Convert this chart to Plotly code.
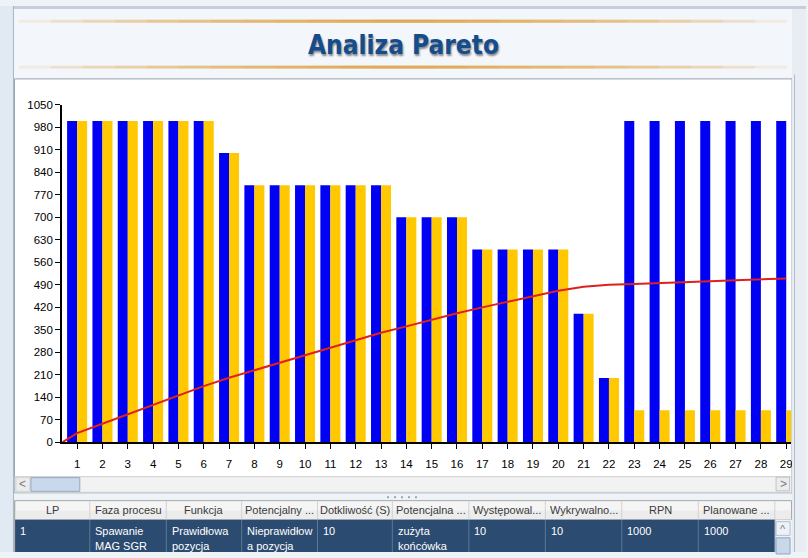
import plotly.graph_objects as go

# ---------------- data ----------------
categories = [1, 2, 3, 4, 5, 6, 7, 8, 9, 10, 11, 12, 13, 14, 15, 16, 17, 18, 19, 20,
              21, 22, 23, 24, 25, 26, 27, 28, 29]
rpn = [1000, 1000, 1000, 1000, 1000, 1000, 900, 800, 800, 800, 800, 800, 800, 700, 700,
       700, 600, 600, 600, 600, 400, 200, 1000, 1000, 1000, 1000, 1000, 1000, 1000]
planned = [1000, 1000, 1000, 1000, 1000, 1000, 900, 800, 800, 800, 800, 800, 800, 700, 700,
           700, 600, 600, 600, 600, 400, 200, 100, 100, 100, 100, 100, 100, 100]
# cumulative (red) line: starting value at the origin, then one value per category
cumulative = [0, 29, 58, 87, 117, 146, 175, 201, 224, 248, 271, 294, 318, 341, 361, 382,
              402, 420, 437, 455, 472, 484, 490, 493, 495, 498, 501, 504, 507, 510]
y_ticks = [0, 70, 140, 210, 280, 350, 420, 490, 560, 630, 700, 770, 840, 910, 980, 1050]

title_text = "Analiza Pareto"
table_headers = ["LP", "Faza procesu", "Funkcja", "Potencjalny ...", "Dotkliwość (S)",
                 "Potencjalna ...", "Występowal...", "Wykrywalno...", "RPN", "Planowane ..."]
table_row = [["1"], ["Spawanie", "MAG SGR"], ["Prawidłowa", "pozycja"],
             ["Nieprawidłow", "a pozycja"], ["10"], ["zużyta", "końcówka"],
             ["10"], ["10"], ["1000"], ["1000"]]

# ---------------- layout helpers ----------------
W, H = 808, 558


def px(x):
    return x / W


def py(y):
    return 1 - y / H


PLOT_L, PLOT_R = 62.3, 793.0
PLOT_B, PLOT_T = 446.0, 101.0
X_RANGE = [0.409, 29.19]
Y_RANGE = [0, 1050]

BLUE = "#0000f2"
GOLD = "#ffc800"
RED = "#e0201c"
FONT = "Liberation Sans, Arial, sans-serif"

fig = go.Figure()
fig.add_trace(go.Bar(x=categories, y=rpn, marker=dict(color=BLUE, line=dict(width=0)),
                     name="RPN"))
fig.add_trace(go.Bar(x=categories, y=planned, marker=dict(color=GOLD, line=dict(width=0)),
                     name="Planowane RPN"))
fig.add_trace(go.Scatter(x=[X_RANGE[0]] + categories, y=cumulative, mode="lines",
                         line=dict(color=RED, width=2), name="Skumulowane",
                         cliponaxis=True))

shapes = []
annotations = []


def rect(x0, y0, x1, y1, fill, line=None, lw=1, layer="below", opacity=1.0):
    shapes.append(dict(type="rect", xref="paper", yref="paper",
                       x0=px(x0), x1=px(x1), y0=py(y0), y1=py(y1),
                       fillcolor=fill, opacity=opacity,
                       line=dict(color=line if line else fill, width=lw if line else 0),
                       layer=layer))


def vline(x, y0, y1, color, lw=1, layer="below"):
    shapes.append(dict(type="line", xref="paper", yref="paper",
                       x0=px(x), x1=px(x), y0=py(y0), y1=py(y1),
                       line=dict(color=color, width=lw), layer=layer))


def text(x, y, s, size=11, color="#000", xanchor="center", family=FONT, **kw):
    annotations.append(dict(xref="paper", yref="paper", x=px(x), y=py(y), text=s,
                            showarrow=False, xanchor=xanchor, yanchor="middle",
                            font=dict(family=family, size=size, color=color, **kw)))


# window frame
rect(0, 0, 808, 3, "#c7ced8")
rect(0, 3, 808, 73, "#f3f6fa")
rect(0, 0, 13, 558, "#e1e9f3")
vline(13.5, 0, 558, "#a7b5c6")

# orange gradient rules around the title
for yc in (15.5, 62.5):
    n = 12
    for i in range(n):
        half = 385 * (1 - i / n)
        rect(404 - half, yc - 1.5, 404 + half, yc + 1.5, "#e39a33", opacity=0.13)

text(404, 40, "<b>" + title_text + "</b>", size=26, color="#154c8c",
     family="Liberation Sans Narrow, DejaVu Sans Condensed, Arial Narrow, sans-serif",
     shadow="1px 2px 2px rgba(0,0,0,0.45)")

# chart panel
rect(14.5, 74.5, 794, 497.5, "#ffffff", line="#9aa3ae")

# horizontal scroll bar
rect(15, 481, 793.5, 497, "#f2f2f2", line="#cfcfcf")
rect(16, 482, 30, 496, "#ececec", line="#d3d3d3")
text(23, 489, "<", size=12, color="#7a7a7a")
rect(31, 482, 80, 496, "#c9d9ec", line="#91a8c3")
rect(778, 481.5, 791.5, 495.5, "#ececec", line="#c3c3c3")
text(785, 488.5, ">", size=12, color="#7a7a7a")

# splitter dots
for dx in (388, 395, 402, 409, 416):
    rect(dx, 501, dx + 2, 503, "#9ba6b3")

# table
col_edges = [14.7, 90, 166.7, 242.3, 318.3, 393.3, 470, 546.7, 623.3, 700, 776.7]
rect(14.7, 505.5, 793.5, 525, "#f5f5f5", line="#a8a8a8", layer="above")
rect(15.2, 515.5, 793, 524.5, "#ececec", layer="above")
rect(14.7, 525, 776.7, 558, "#2b4b70", layer="above")
rect(776.7, 525, 793.5, 558, "#eef1f5", layer="above")
rect(778, 527, 792, 541, "#eef2f7", line="#b4c0cf", layer="above")
rect(778, 543.5, 792, 560, "#c8d8ea", line="#8fa6c0", layer="above")
for xe in col_edges[1:]:
    vline(xe, 506, 525, "#d2d2d2", layer="above")
    vline(xe, 525, 558, "#5c7799", layer="above")
vline(14.7, 505.5, 558, "#a8a8a8", layer="above")

for i, h in enumerate(table_headers):
    text((col_edges[i] + col_edges[i + 1]) / 2, 515.5, h, size=11, color="#3a3a3a")
for i, lines in enumerate(table_row):
    for j, s in enumerate(lines):
        text(col_edges[i] + 3.5, 536.5 + 15 * j, s, size=11, color="#ffffff",
             xanchor="left")
text(785, 534, "^", size=11, color="#707a86")

# right frame (covers the clipped end of the chart, like the reference)
rect(794, 0, 808, 558, "#e8edf3", layer="above")
vline(796.5, 70, 558, "#b3bdc9", layer="above")
rect(794, 0, 808, 3, "#c7ced8", layer="above")

fig.update_layout(
    width=W, height=H,
    margin=dict(l=0, r=0, t=0, b=0),
    paper_bgcolor="#eef3f8",
    plot_bgcolor="#ffffff",
    showlegend=False,
    barmode="group",
    bargap=0.21,
    bargroupgap=0.0,
    shapes=shapes,
    annotations=annotations,
    xaxis=dict(domain=[px(PLOT_L), px(PLOT_R)], range=X_RANGE,
               tickmode="array", tickvals=categories,
               ticktext=[str(c) for c in categories],
               showgrid=False, zeroline=False,
               showline=True, linecolor="#000000", linewidth=2,
               ticks="outside", ticklen=5, tickwidth=1, tickcolor="#000000",
               ticklabelstandoff=5,
               tickfont=dict(family=FONT, size=11.5, color="#000000"),
               fixedrange=True),
    yaxis=dict(domain=[py(PLOT_B), py(PLOT_T)], range=Y_RANGE,
               tickmode="array", tickvals=y_ticks,
               ticktext=[str(v) for v in y_ticks],
               showgrid=False, zeroline=False,
               showline=True, linecolor="#000000", linewidth=2,
               ticks="outside", ticklen=5, tickwidth=1, tickcolor="#000000",
               tickfont=dict(family=FONT, size=11.5, color="#000000"),
               fixedrange=True),
)

# the page's default 8px body margin would push the 808x558 figure out of the window
fig.write_html("out.html",
               config={"displayModeBar": False},
               post_script="document.body.style.margin='0px';"
                           "document.body.style.overflow='hidden';")
